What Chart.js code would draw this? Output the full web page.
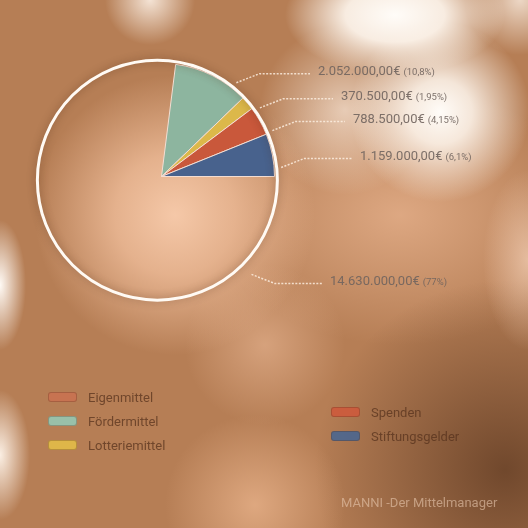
<!DOCTYPE html>
<html>
<head>
<meta charset="utf-8">
<script src="https://cdn.jsdelivr.net/npm/chart.js@4.4.0/dist/chart.umd.min.js"></script>
<style>
  html, body { margin: 0; padding: 0; }
  body { width: 528px; height: 528px; overflow: hidden; position: relative; font-family: Roboto, sans-serif; }
  #bg {
    position: absolute; left: 0; top: 0; width: 528px; height: 528px;
    background:
      radial-gradient(ellipse 110px 60px at 395px 15px, rgba(255,252,248,1) 0, rgba(255,248,240,0.9) 45%, rgba(255,240,225,0) 100%),
      radial-gradient(circle at 440px 112px, rgba(255,252,248,1) 0, rgba(255,248,240,0.85) 32px, rgba(255,240,225,0) 90px),
      radial-gradient(circle at 345px 110px, rgba(255,242,230,0.65) 0, rgba(255,240,225,0) 85px),
      radial-gradient(circle at 150px 0px, rgba(255,245,235,0.85) 0, rgba(255,240,225,0) 45px),
      radial-gradient(circle at 520px 0px, rgba(255,245,235,0.75) 0, rgba(255,240,225,0) 55px),
      radial-gradient(ellipse 26px 65px at 0px 285px, rgba(255,250,245,1) 0, rgba(255,240,225,0) 100%),
      radial-gradient(ellipse 30px 65px at 0px 455px, rgba(255,245,235,0.95) 0, rgba(255,240,225,0) 100%),
      radial-gradient(ellipse 45px 90px at 528px 260px, rgba(245,210,185,0.7) 0, rgba(245,210,185,0) 100%),
      radial-gradient(circle at 175px 215px, rgba(245,200,168,1) 0, rgba(240,190,155,0.8) 60px, rgba(230,180,145,0) 140px),
      radial-gradient(circle at 255px 505px, rgba(232,178,138,0.8) 0, rgba(232,178,138,0) 90px),
      radial-gradient(circle at 265px 345px, rgba(235,185,150,0.6) 0, rgba(235,185,150,0) 80px),
      radial-gradient(circle at 505px 470px, rgba(105,66,40,0.9) 0, rgba(105,66,40,0) 190px),
      radial-gradient(ellipse 190px 130px at 400px 215px, rgba(228,175,138,0.85) 0, rgba(228,175,138,0) 100%),
      #b67e55;
  }
  #chart { position: absolute; left: 0; top: 0; }
  .legend { position: absolute; margin: 0; padding: 0; list-style: none; }
  .legend li { height: 24px; display: flex; align-items: center; font-size: 13px; color: rgba(85,48,28,0.72); }
  .legend .sw { width: 29px; height: 10px; border-radius: 3px; margin-right: 11px; box-sizing: border-box; border: 1px solid rgba(90,50,30,0.3); }
  #mark { position: absolute; left: 341px; top: 495px; font-size: 13px; color: rgba(232,200,175,0.6); white-space: nowrap; }
</style>
</head>
<body>
<div id="bg"></div>
<canvas id="chart" width="528" height="528"></canvas>
<ul class="legend" id="legLeft" style="left:48px; top:385px;"></ul>
<ul class="legend" id="legRight" style="left:331px; top:400px;"></ul>
<div id="mark">MANNI -Der Mittelmanager</div>
<script>
// Finanzierung
const categories = ['Eigenmittel', 'Fördermittel', 'Lotteriemittel', 'Spenden', 'Stiftungsgelder'];
const amounts = [14630000, 2052000, 370500, 788500, 1159000];
const sliceColors = ['rgba(0,0,0,0)', '#8db59f', '#dcb84a', '#c9583b', '#48628d'];
const legendColors = ['rgba(204,112,80,0.8)', 'rgba(150,200,178,0.9)', 'rgba(226,188,72,0.9)', 'rgba(205,90,60,0.9)', 'rgba(74,102,144,0.9)'];

// label layout: angle on the ring (deg), extra gap, text x
const labelAngle = [47.4, -51.4, -34.9, -22.5, -4.3];
const labelGap = [13, 0, 0, 0, 0];
const labelTextX = [330, 318, 341, 353, 360];

const total = amounts.reduce((a, b) => a + b, 0);

function fmtMoney(v) {
  const parts = v.toFixed(2).split('.');
  const int = parts[0].replace(/\B(?=(\d{3})+(?!\d))/g, '.');
  return int + ',' + parts[1] + '€';
}
function fmtPct(v) {
  let s = (Math.round(v * 100) / 100).toString();
  return '(' + s.replace('.', ',') + '%)';
}

const ringAndLabels = {
  id: 'ringAndLabels',
  afterDatasetsDraw(chart) {
    const ctx = chart.ctx;
    const arcs = chart.getDatasetMeta(0).data;
    const main = arcs[0];
    const mid = (main.startAngle + main.endAngle) / 2;
    const cx = main.x + Math.cos(mid) * 5.5;
    const cy = main.y + Math.sin(mid) * 5.5;
    const r = main.outerRadius + 7;

    // white outline round the pie
    ctx.save();
    ctx.shadowColor = 'rgba(70,35,15,0.45)';
    ctx.shadowBlur = 9;
    ctx.strokeStyle = '#fffaf4';
    ctx.lineWidth = 3;
    ctx.beginPath();
    ctx.arc(cx, cy, r, 0, Math.PI * 2);
    ctx.stroke();
    ctx.restore();

    // labels with leader lines
    arcs.forEach((arc, i) => {
      const a = labelAngle[i] * Math.PI / 180;
      const rr = arc.outerRadius + 7 + labelGap[i];
      const sx = arc.x + Math.cos(a) * rr;
      const sy = arc.y + Math.sin(a) * rr;
      const dir = Math.sin(a) > 0 ? 1 : -1;
      const ex = sx + 23, ey = sy + dir * 9;
      const tx = labelTextX[i];

      ctx.save();
      ctx.strokeStyle = 'rgba(255,242,230,0.8)';
      ctx.lineWidth = 1.5;
      ctx.setLineDash([2, 1.5]);
      ctx.beginPath();
      ctx.moveTo(sx, sy);
      ctx.lineTo(ex, ey);
      ctx.lineTo(tx - 8, ey);
      ctx.stroke();
      ctx.restore();

      const ty = ey - 2;
      const money = fmtMoney(amounts[i]);
      const pct = fmtPct(amounts[i] / total * 100);
      ctx.save();
      ctx.textBaseline = 'middle';
      ctx.fillStyle = 'rgba(112,100,94,0.9)';
      ctx.font = '13px Roboto';
      ctx.fillText(money, tx, ty);
      const w = ctx.measureText(money).width;
      ctx.font = '9.5px Roboto';
      ctx.fillText(pct, tx + w + 3, ty + 1);
      ctx.restore();
    });
  }
};

const ctx = document.getElementById('chart').getContext('2d');
new Chart(ctx, {
  type: 'pie',
  data: {
    labels: categories,
    datasets: [{
      data: amounts,
      backgroundColor: sliceColors,
      borderColor: ['rgba(0,0,0,0)', '#f3ddd2', '#f3ddd2', '#f3ddd2', '#f3ddd2'],
      borderWidth: 1
    }]
  },
  options: {
    responsive: false,
    devicePixelRatio: 1,
    animation: false,
    rotation: 90,
    layout: { padding: { left: 48, top: 63, right: 253, bottom: 238 } },
    plugins: {
      legend: { display: false },
      tooltip: { enabled: false }
    }
  },
  plugins: [ringAndLabels]
});

// legend, two columns
function addLegend(id, idx) {
  const ul = document.getElementById(id);
  idx.forEach(i => {
    const li = document.createElement('li');
    const sw = document.createElement('span');
    sw.className = 'sw';
    sw.style.background = legendColors[i];
    li.appendChild(sw);
    li.appendChild(document.createTextNode(categories[i]));
    ul.appendChild(li);
  });
}
addLegend('legLeft', [0, 1, 2]);
addLegend('legRight', [3, 4]);
</script>
</body>
</html>
